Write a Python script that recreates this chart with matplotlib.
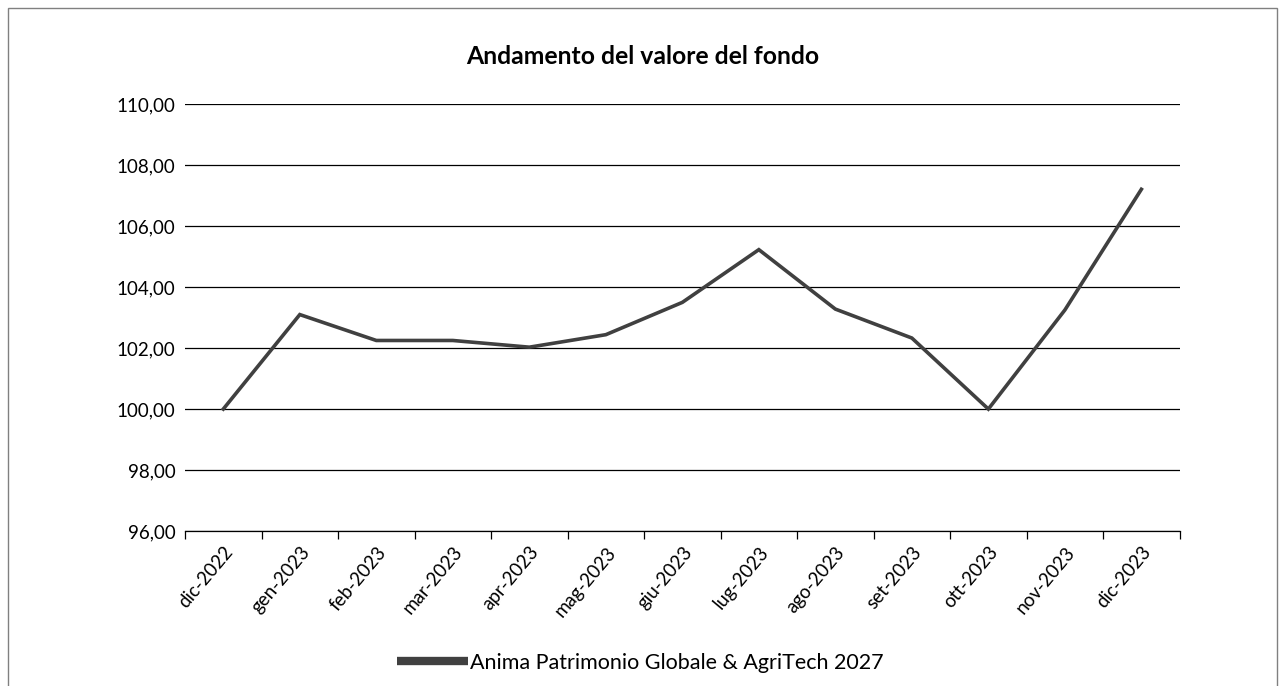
import matplotlib.pyplot as plt
from matplotlib.patches import Rectangle
from matplotlib.lines import Line2D

plt.rcParams['font.family'] = ['Lato', 'DejaVu Sans']

# Dati
mesi = ['dic-2022', 'gen-2023', 'feb-2023', 'mar-2023', 'apr-2023', 'mag-2023',
        'giu-2023', 'lug-2023', 'ago-2023', 'set-2023', 'ott-2023', 'nov-2023', 'dic-2023']
valori = [100.00, 103.10, 102.25, 102.25, 102.03, 102.44,
          103.50, 105.23, 103.28, 102.33, 100.00, 103.25, 107.21]
tick_y = [96, 98, 100, 102, 104, 106, 108, 110]
nome_serie = 'Anima Patrimonio Globale & AgriTech 2027'

fig = plt.figure(figsize=(12.85, 6.86), dpi=100)
ax = fig.add_axes([0.144, 0.226, 0.774, 0.622])

x = list(range(len(mesi)))
ax.plot(x, valori, color='#404040', linewidth=2.6, solid_joinstyle='miter', zorder=3)

# Assi
ax.set_xlim(-0.5, len(mesi) - 0.5)
ax.set_ylim(96, 110)
ax.set_yticks(tick_y)
ax.set_yticklabels([f'{v:.2f}'.replace('.', ',') for v in tick_y], fontsize=13.5)
ax.tick_params(axis='y', length=0, pad=7)
ax.yaxis.grid(True, color='black', linewidth=0.9)
ax.set_axisbelow(True)

ax.set_xticks([i - 0.5 for i in range(len(mesi) + 1)])
ax.set_xticklabels([])
ax.set_xticks(x, minor=True)
ax.set_xticklabels(mesi, minor=True, rotation=50, ha='right', rotation_mode='anchor', fontsize=13.5)
ax.tick_params(axis='x', which='major', length=6, width=0.9, color='black', direction='out')
ax.tick_params(axis='x', which='minor', length=0, pad=9)

for s in ['top', 'right', 'left']:
    ax.spines[s].set_visible(False)
ax.spines['bottom'].set_color('black')
ax.spines['bottom'].set_linewidth(0.9)

fig.text(0.5, 0.917, 'Andamento del valore del fondo', ha='center', va='center',
         fontsize=17.8, fontweight='bold')

handle = Line2D([], [], color='#404040', linewidth=6, solid_capstyle='butt')
fig.legend([handle], [nome_serie], loc='center', bbox_to_anchor=(0.498, 0.034),
           frameon=False, fontsize=15.5, handlelength=3.3, handletextpad=0.1)

# Bordo
fig.patches.append(Rectangle((8 / 1285, -0.01), 1269 / 1285, 1 - 8 / 686 + 0.01,
                             transform=fig.transFigure, fill=False,
                             edgecolor='#808080', linewidth=1))

fig.savefig('out.png', dpi=100)
